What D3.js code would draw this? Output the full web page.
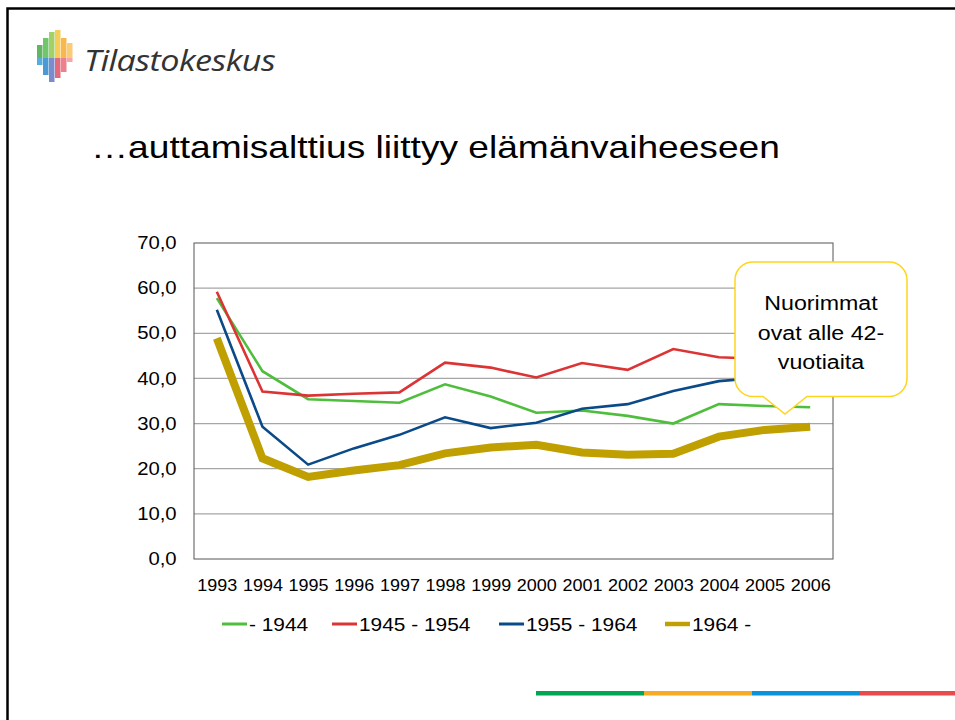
<!DOCTYPE html>
<html><head><meta charset="utf-8">
<script src="https://cdn.jsdelivr.net/npm/d3@7"></script>
<style>body{margin:0;background:#fff}svg{display:block}</style>
</head><body>
<svg id="c" width="955" height="720"></svg>
<script>
const years = ["1993","1994","1995","1996","1997","1998","1999","2000","2001","2002","2003","2004","2005","2006"];
const seriesNames = ["- 1944","1945 - 1954","1955 - 1964","1964 -"];
const s1944 = [57.8,41.6,35.4,35.0,34.6,38.7,36.0,32.4,32.9,31.7,30.0,34.3,33.9,33.6];
const s1945 = [59.2,37.1,36.2,36.6,36.9,43.5,42.4,40.2,43.4,41.9,46.5,44.7,44.3,44.8];
const s1955 = [55.2,29.3,20.9,24.5,27.5,31.4,29.0,30.2,33.3,34.3,37.2,39.4,40.2,41.0];
const s1964 = [48.9,22.3,18.2,19.6,20.8,23.4,24.7,25.3,23.6,23.1,23.3,27.1,28.6,29.3];
const yTicks = [0,10,20,30,40,50,60,70];
const colors = ["#4fbe3c","#dc3434","#0a4a88","#bfa000"];
const widths = [2.6,2.6,2.6,8];
const title = "…auttamisalttius liittyy elämänvaiheeseen";
const calloutLines = ["Nuorimmat","ovat alle 42-","vuotiaita"];

const SX = 1.16;
const svg = d3.select("#c");
const F = "Liberation Sans, Arial, sans-serif";

// slide border
svg.append("path").attr("d","M7.5,720 V8.5 H955").attr("fill","none").attr("stroke","#000").attr("stroke-width",2.5);

// logo icon (pixel bars)
const logoBars = [
  {x:37,y1:45,y2:58,c:"#3aa53a"},{x:43,y1:38,y2:58,c:"#4db848"},{x:49,y1:32,y2:58,c:"#8cc63f"},
  {x:55,y1:30,y2:58,c:"#f2c12e"},{x:61,y1:38,y2:58,c:"#f6a623"},{x:67,y1:43,y2:58,c:"#f7be5a"},
  {x:37,y1:58,y2:65,c:"#2c9ad6"},{x:43,y1:58,y2:75,c:"#1f7fc8"},{x:49,y1:58,y2:82,c:"#5a6fc0"},
  {x:55,y1:58,y2:78,c:"#d9455a"},{x:61,y1:58,y2:72,c:"#e86070"},{x:67,y1:58,y2:62,c:"#f29090"}
];
svg.selectAll("rect.logo").data(logoBars).join("rect").attr("class","logo")
  .attr("x",d=>d.x).attr("y",d=>d.y1).attr("width",5.5).attr("height",d=>d.y2-d.y1)
  .attr("fill",d=>d.c).attr("opacity",0.8);
svg.append("text").attr("transform","translate(84,71) scale(1.14,1)").attr("font-family","Open Sans, sans-serif")
  .attr("font-style","italic").attr("font-size",30).attr("fill","#333").attr("letter-spacing",-0.5).text("Tilastokeskus");

// title
svg.append("text").attr("transform",`translate(91,158) scale(${SX},1)`).attr("font-family",F)
  .attr("font-size",32).attr("fill","#000").text(title);

// chart
const x = d3.scalePoint().domain(years).range([194,833]).padding(0.5);
const y = d3.scaleLinear().domain([0,70]).range([559,243]);

const g = svg.append("g");
g.selectAll("line.grid").data(yTicks.slice(1,-1)).join("line").attr("class","grid")
  .attr("x1",194).attr("x2",833).attr("y1",d=>y(d)).attr("y2",d=>y(d))
  .attr("stroke","#a6a6a6").attr("stroke-width",1.2);
g.append("rect").attr("x",194).attr("y",243).attr("width",639).attr("height",316)
  .attr("fill","none").attr("stroke","#555").attr("stroke-width",1);

// y axis labels
const yAxis = d3.axisLeft(y).tickValues(yTicks).tickSize(0).tickPadding(15)
  .tickFormat(d=>d3.format(".1f")(d).replace(".",","));
const ya = svg.append("g").attr("transform","translate(194,0)").call(yAxis);
ya.select(".domain").remove();
ya.selectAll("text").attr("font-family",F).attr("font-size",17.5).attr("fill","#000")
  .attr("transform",`scale(${SX},1)`);

// x axis labels
const xAxis = d3.axisBottom(x).tickSize(0).tickPadding(17.5);
const xa = svg.append("g").attr("transform","translate(0,574)").call(xAxis);
xa.select(".domain").remove();
xa.selectAll("text").attr("font-family",F).attr("font-size",16.5).attr("fill","#000").attr("dy","0")
  .attr("transform","scale(1.09,1)");

// lines
const allSeries = [s1944,s1945,s1955,s1964];
const line = d3.line().x((d,i)=>x(years[i])).y(d=>y(d));
allSeries.forEach((s,k)=>{
  g.append("path").datum(s).attr("d",line).attr("fill","none")
   .attr("stroke",colors[k]).attr("stroke-width",widths[k]).attr("stroke-linejoin","miter");
});

// legend
const legX = [222,332,499,665];
const lg = svg.append("g");
seriesNames.forEach((n,k)=>{
  lg.append("line").attr("x1",legX[k]).attr("x2",legX[k]+25).attr("y1",624).attr("y2",624)
    .attr("stroke",colors[k]).attr("stroke-width",k===3?4.5:3);
  lg.append("text").attr("transform",`translate(${legX[k]+27},630.5) scale(${SX},1)`)
    .attr("font-family",F).attr("font-size",18).text(n);
});

// callout
const L=735,R=907,T=262,B=396.5,r=18;
const p = d3.path();
p.moveTo(L+r,T); p.lineTo(R-r,T); p.arcTo(R,T,R,T+r,r); p.lineTo(R,B-r); p.arcTo(R,B,R-r,B,r);
p.lineTo(807,B); p.lineTo(785,414); p.lineTo(763,B);
p.lineTo(L+r,B); p.arcTo(L,B,L,B-r,r); p.lineTo(L,T+r); p.arcTo(L,T,L+r,T,r); p.closePath();
svg.append("path").attr("d",p.toString()).attr("fill","#fff").attr("stroke","#ffd51c").attr("stroke-width",1.5);
calloutLines.forEach((t,i)=>{
  svg.append("text").attr("transform",`translate(821,${310+i*29.5}) scale(${SX},1)`)
    .attr("font-family",F).attr("font-size",20).attr("text-anchor","middle").text(t);
});

// bottom color strip
const strip = [{x:536,w:108,c:"#00a651"},{x:644,w:108,c:"#f5ab24"},{x:752,w:108,c:"#0a93db"},{x:860,w:95,c:"#e84a4e"}];
svg.selectAll("rect.strip").data(strip).join("rect").attr("class","strip")
  .attr("x",d=>d.x).attr("y",691).attr("width",d=>d.w).attr("height",4.5).attr("fill",d=>d.c);
</script>
</body></html>
